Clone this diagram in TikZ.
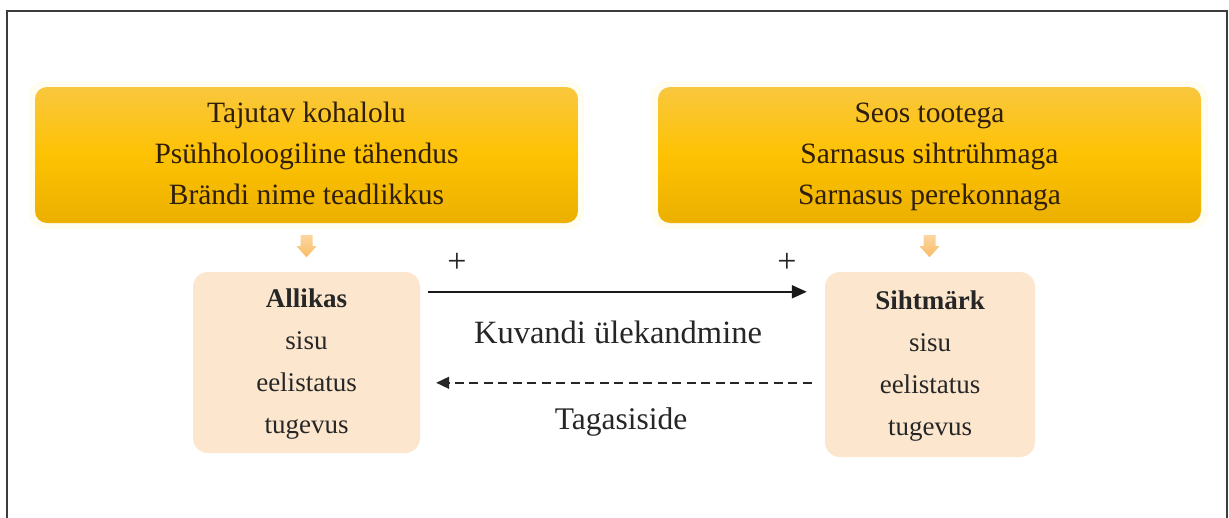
\documentclass[tikz,border=0pt]{standalone}
\usepackage{fontspec}
\setmainfont{Liberation Serif}
\usetikzlibrary{arrows.meta,calc}
\definecolor{goldtop}{HTML}{F9C73E}
\definecolor{goldmid}{HTML}{FEC203}
\definecolor{goldbot}{HTML}{EBB000}
\definecolor{peach}{HTML}{FCE7CE}
\definecolor{arrtop}{HTML}{FCD6A0}
\definecolor{arrbot}{HTML}{F8BC66}
\definecolor{txtbrown}{HTML}{2E1E0A}
\definecolor{framegray}{HTML}{3C3C3C}
\definecolor{glow}{HTML}{FFFCF0}
\begin{document}
\begin{tikzpicture}[x=1pt,y=-1pt,
  topbox/.style={rounded corners=12pt, top color=goldtop, bottom color=goldbot, middle color=goldmid,
    minimum width=543pt, minimum height=136pt, align=center, text=txtbrown,
    font=\fontsize{29.5}{41}\selectfont, inner sep=0pt},
  lowbox/.style={rounded corners=15pt, fill=peach, align=center, text=black!85,
    font=\fontsize{27}{42}\selectfont, inner sep=0pt},
  lbl/.style={text=black!85, inner sep=0pt},
  plus/.style={font=\fontsize{34}{38}\selectfont, text=black!85, inner sep=0pt},
  solidarr/.style={line width=2pt, black!90, -{Triangle[length=15pt,width=13pt]}},
  dasharr/.style={line width=1.6pt, black!85, dash pattern=on 9pt off 5.5pt, -{Triangle[length=13pt,width=12pt]}},
  downarr/.style={top color=arrtop, bottom color=arrbot}
]
\useasboundingbox (0,0) rectangle (1229,517);
\fill[white] (0,0) rectangle (1229,517);
% faint glow behind top boxes
\fill[glow, rounded corners=16pt] (29,81) rectangle (584,229);
\fill[glow, rounded corners=16pt] (651,81) rectangle (1208,229);
% top boxes
\node[topbox] (tl) at (306.5,155) {\strut Tajutav kohalolu\\Psühholoogiline tähendus\\Brändi nime teadlikkus\strut};
\node[topbox] (tr) at (929.5,155) {\strut Seos tootega\\Sarnasus sihtrühmaga\\Sarnasus perekonnaga\strut};
% lower boxes
\node[lowbox, minimum width=227pt, minimum height=181pt] (src) at (306.5,362.5)
  {\strut\textbf{Allikas}\\sisu\\eelistatus\\tugevus\strut};
\node[lowbox, minimum width=210pt, minimum height=185pt] (tgt) at (930,364.5)
  {\strut\textbf{Sihtmärk}\\sisu\\eelistatus\\tugevus\strut};
% small down arrows
\foreach \n in {tl,tr}{
  \path[downarr] ($(\n.south)+(-6,12)$) -- ($(\n.south)+(6,12)$) -- ($(\n.south)+(6,23)$)
    -- ($(\n.south)+(10,23)$) -- ($(\n.south)+(0,34)$) -- ($(\n.south)+(-10,23)$)
    -- ($(\n.south)+(-6,23)$) -- cycle;
}
% connectors
\coordinate (a1) at ($(src.north east)+(8,20)$);
\coordinate (a2) at ($(tgt.north west)+(-18,20)$);
\draw[solidarr] (a1) -- (a2);
\coordinate (b1) at ($(tgt.north west)+(-13,111)$);
\coordinate (b2) at ($(src.north east)+(16,111)$);
\draw[dasharr] (b1) -- (b2);
% labels
\node[plus] (p1) at (457,263) {+};
\node[plus] (p2) at (787,263) {+};
\node[lbl, font=\fontsize{32.5}{36}\selectfont] (k) at (618,332) {Kuvandi ülekandmine};
\node[lbl, font=\fontsize{31.5}{36}\selectfont] (t) at (621,422) {Tagasiside};
% frame
\draw[framegray, line width=2pt] (6.5,530) -- (6.5,11) -- (1227,11) -- (1227,530);
\end{tikzpicture}
\end{document}
